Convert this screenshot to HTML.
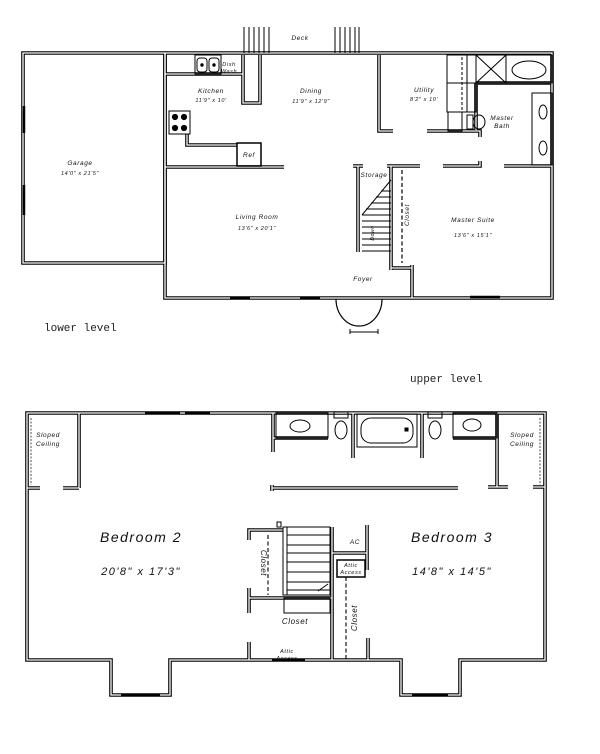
<!DOCTYPE html>
<html><head><meta charset="utf-8"><style>
html,body{margin:0;padding:0;background:#fff;}
svg{display:block;}
.t{font-family:"Liberation Sans",sans-serif;font-size:6.5px;font-style:italic;fill:#111;text-anchor:middle;letter-spacing:0.6px;}
.b{font-family:"Liberation Sans",sans-serif;font-size:14px;font-style:italic;fill:#111;text-anchor:middle;letter-spacing:1.5px;}
.m{font-family:"Liberation Mono",monospace;font-size:11px;fill:#222;}
</style></head><body>
<svg width="600" height="754" viewBox="0 0 600 754" xmlns="http://www.w3.org/2000/svg">
<defs>
<g id="walls" fill="none">
<path d="M23,53 H165 V263 H23 Z"/>
<path d="M165,53 H552 V298 H165 V53"/>
<path d="M165,74 H243 M243,55 V103 H260 V55"/>
<path d="M187,134 V145 H237"/>
<path d="M165,167 H284"/>
<path d="M379,55 V131 H393 M427,131 H480 V137"/>
<path d="M476,83 V130 M476,83 H552"/>
<path d="M443,166 H480 V161 M504,166 H552"/>
<path d="M353,166 H363 M358,166 V252"/>
<path d="M387,166 H420 M391,166 V270 M391,268 H412 M412,265 V298"/>
<path d="M27,413 H545 V660 H460 V695 H401 V660 H170 V695 H111 V660 H27 Z"/>
<path d="M79,413 V488 M27,488 H40 M63,488 H79"/>
<path d="M497,413 V487 M488,487 H508 M533,487 H545"/>
<path d="M273,413 V452 M273,438 H328 M353,413 V458 M422,413 V458 M453,438 H497"/>
<path d="M272,485 V491 M272,488 H458"/>
<path d="M249,540 V530 H283 M249,588 V613 M249,598 H332"/>
<path d="M332,527 V660 M332,553 H367 M367,525 V570"/>
<path d="M249,642 V660 M368,638 V660"/>
</g>
</defs>
<use href="#walls" stroke="#000" stroke-width="3.6"/>
<use href="#walls" stroke="#fff" stroke-width="1.3"/>

<g fill="none" stroke="#000" stroke-width="1">
<path d="M244,27V53M249,27V53M254,27V53M259,27V53M264,27V53M269,27V53"/>
<path d="M335,27V53M340,27V53M345,27V53M350,27V53M355,27V53M359,27V53"/>
<path d="M24,106V133M24,185V215" stroke-width="2.5"/>
<rect x="195" y="55" width="26" height="19"/>
<rect x="197" y="58" width="10" height="14" rx="3"/><rect x="209" y="58" width="10" height="14" rx="3"/>
<circle cx="202" cy="65" r="1.2" fill="#000"/><circle cx="214" cy="65" r="1.2" fill="#000"/>
<rect x="169" y="111" width="21" height="23"/>
<circle cx="175" cy="117" r="2.6" fill="#000"/><circle cx="184" cy="117" r="2.6" fill="#000"/>
<circle cx="175" cy="128" r="2.6" fill="#000"/><circle cx="184" cy="128" r="2.6" fill="#000"/>
<rect x="237" y="143" width="24" height="23" stroke-width="1.5"/>
<rect x="447" y="55" width="29" height="57"/><path d="M447,83H476M467,55V112" /><path d="M462,57V110" stroke-dasharray="3,2"/>
<rect x="476" y="55" width="30" height="28"/><path d="M476,55L506,83M506,55L476,83"/>
<rect x="506" y="55" width="46" height="28"/><ellipse cx="529" cy="70" rx="17" ry="9"/>
<rect x="532" y="93" width="20" height="72"/><ellipse cx="543" cy="112" rx="4" ry="7"/><ellipse cx="543" cy="148" rx="4" ry="7"/>
<rect x="467" y="115" width="6" height="14"/><ellipse cx="479" cy="122" rx="6" ry="7"/>
<rect x="448" y="112" width="14" height="19"/>
<path d="M391,180L362,215"/>
<path d="M362,215H391M362,221H391M362,227H391M362,233H391M362,239H391M362,245H391M362,251H391M366,209H391M371,203H391M376,197H391M381,191H391"/>
<path d="M402,170V263" stroke-dasharray="4,2.5" stroke-width="1.2"/>
<path d="M336,299 A23,27 0 0 0 382,299" stroke-width="1.2"/>
<path d="M350,332H378M350,329V334M378,329V334"/>
<path d="M300,298H320M230,298H250M470,297H500" stroke-width="2.5"/>

<path d="M31,418V485M540,418V485" stroke-dasharray="2,1.5" stroke-width="0.7"/>
<path d="M145,413H180M185,413H210M121,695H160M412,695H448M272,660H305" stroke-width="2.5"/>
<rect x="276" y="413" width="52" height="25"/><ellipse cx="300" cy="426" rx="10" ry="6"/>
<rect x="453" y="413" width="44" height="25"/><ellipse cx="472" cy="425" rx="9" ry="6"/>
<rect x="334" y="412" width="14" height="6"/><ellipse cx="341" cy="430" rx="6" ry="9"/>
<rect x="428" y="412" width="14" height="6"/><ellipse cx="435" cy="430" rx="6" ry="9"/>
<rect x="357" y="414" width="60" height="33"/><rect x="361" y="418" width="52" height="25" rx="10"/>
<rect x="405" y="428" width="3" height="3" fill="#000"/>
<rect x="283" y="527" width="47" height="68"/>
<path d="M287,527V595M287,535H330M287,545H330M287,553H330M287,562H330M287,572H330M287,582H330M287,590H330"/>
<path d="M318,591L328,584"/>
<path d="M268,535V595M346,577V660" stroke-dasharray="4,2.5" stroke-width="1.1"/>
<rect x="284" y="598" width="46" height="15"/>
<rect x="337" y="560" width="28" height="17" stroke-width="1.5"/>
<rect x="277" y="522" width="4" height="5"/>
</g>

<g class="t">
<text x="300" y="40">Deck</text>
<text x="229" y="66" font-size="5.5">Dish</text><text x="229" y="73" font-size="5.5">Wash</text>
<text x="211" y="93">Kitchen</text><text x="211" y="102" font-size="5.5">11'9" x 10'</text>
<text x="311" y="93">Dining</text><text x="311" y="103" font-size="5.5">11'9" x 12'9"</text>
<text x="424" y="92">Utility</text><text x="424" y="101" font-size="5.5">8'2" x 10'</text>
<text x="502" y="120">Master</text><text x="502" y="128">Bath</text>
<text x="249" y="157">Ref</text>
<text x="80" y="165">Garage</text><text x="80" y="175" font-size="5.5">14'0" x 21'5"</text>
<text x="257" y="219">Living Room</text><text x="257" y="230" font-size="5.5">13'6" x 20'1"</text>
<text x="374" y="177">Storage</text>
<text x="473" y="222">Master Suite</text><text x="473" y="237" font-size="5.5">13'6" x 15'1"</text>
<text x="363" y="281">Foyer</text>
<text transform="translate(409,215) rotate(-90)">Closet</text>
<text transform="translate(374,233) rotate(-90)" font-size="5">Down</text>
<text x="48" y="437">Sloped</text><text x="48" y="446">Ceiling</text>
<text x="522" y="437">Sloped</text><text x="522" y="446">Ceiling</text>
<text x="355" y="544">AC</text>
<text x="351" y="567" font-size="5.5">Attic</text><text x="351" y="574" font-size="5.5">Access</text>
<text x="287" y="653" font-size="5.5">Attic</text><text x="287" y="660" font-size="5.5">Access</text>
<text x="295" y="624" font-size="8">Closet</text>
<text transform="translate(261,563) rotate(90)" font-size="8">Closet</text>
<text transform="translate(357,618) rotate(-90)" font-size="8">Closet</text>
</g>
<g class="b">
<text x="141" y="542">Bedroom 2</text><text x="141" y="575" font-size="11">20'8"  x  17'3"</text>
<text x="452" y="542">Bedroom 3</text><text x="452" y="575" font-size="11">14'8"  x  14'5"</text>
</g>
<text class="m" x="44" y="331">lower level</text>
<text class="m" x="410" y="382">upper level</text>
</svg>
</body></html>
